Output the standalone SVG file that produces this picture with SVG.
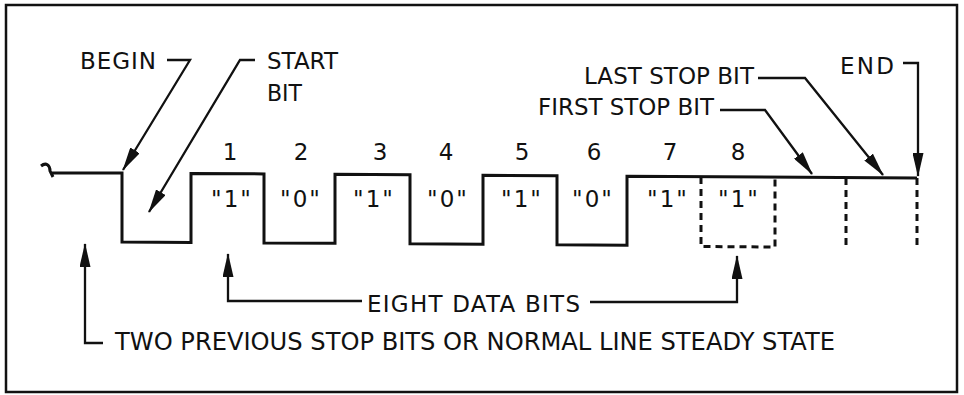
<svg xmlns="http://www.w3.org/2000/svg" width="964" height="395" viewBox="0 0 964 395">
  <defs>
    <marker id="ah" viewBox="0 0 24 11" markerWidth="24" markerHeight="11" refX="23" refY="5.5" orient="auto" markerUnits="userSpaceOnUse">
      <path d="M0,0 L24,5.5 L0,11 Z" fill="#111"/>
    </marker>
    <style>
      .wave { fill: none; stroke: #111; stroke-width: 3; stroke-linejoin: miter; }
      .dash { fill: none; stroke: #111; stroke-width: 3; stroke-dasharray: 7 5; }
      .lead { fill: none; stroke: #111; stroke-width: 2.3; marker-end: url(#ah); }
      text { font-family: "DejaVu Sans", "Liberation Sans", sans-serif; fill: #111; font-size: 23px; }
      .num { text-anchor: middle; }
      .q { text-anchor: middle; letter-spacing: 2px; }
      .big { font-size: 24px; }
    </style>
  </defs>
  <rect width="964" height="395" fill="#fff"/>
  <rect x="6" y="5" width="951" height="387" fill="none" stroke="#111" stroke-width="2.5"/>

  <g id="waveform">
    <path class="wave" d="M41,166 C46,162 50,165 50,171 L53,177 M50,173 L122,173 L122,242 L191,242.4 L191,173.4 L264,173.9 L264,242.9 L335,243.3 L335,174.3 L410,174.8 L410,243.8 L483,244.3 L483,175.3 L557,175.7 L557,244.7 L627,245.2 L627,176.2 L917,178"/>
    <path class="dash" d="M701,177 L701,246.5 L775,247 L775,177.5"/>
    <path class="dash" d="M846,178 L846,248"/>
    <path class="dash" d="M917,178 L917,248"/>
  </g>

  <g id="bit-numbers">
    <text class="num" x="230" y="160">1</text>
    <text class="num" x="301" y="160">2</text>
    <text class="num" x="380" y="160">3</text>
    <text class="num" x="446" y="160">4</text>
    <text class="num" x="522" y="160">5</text>
    <text class="num" x="594" y="160">6</text>
    <text class="num" x="670" y="160">7</text>
    <text class="num" x="738" y="160">8</text>
  </g>

  <g id="bit-values">
    <text class="q" x="232" y="207">"1"</text>
    <text class="q" x="301" y="207">"0"</text>
    <text class="q" x="374" y="207">"1"</text>
    <text class="q" x="448" y="207">"0"</text>
    <text class="q" x="522" y="207">"1"</text>
    <text class="q" x="593" y="207">"0"</text>
    <text class="q" x="668" y="207">"1"</text>
    <text class="q" x="739" y="207">"1"</text>
  </g>

  <g id="begin">
    <text x="80" y="69" textLength="76" lengthAdjust="spacing">BEGIN</text>
  </g>
  <g id="start-bit">
    <text x="267" y="69" textLength="71" lengthAdjust="spacingAndGlyphs">START</text>
    <text x="267" y="101" textLength="35" lengthAdjust="spacingAndGlyphs">BIT</text>
  </g>
  <g id="last-stop-bit">
    <text x="584" y="84" textLength="170" lengthAdjust="spacing">LAST STOP BIT</text>
  </g>
  <g id="first-stop-bit">
    <text x="538" y="115" textLength="176" lengthAdjust="spacingAndGlyphs">FIRST STOP BIT</text>
  </g>
  <g id="end">
    <text x="840" y="74" textLength="54" lengthAdjust="spacing">END</text>
  </g>
  <g id="eight-data-bits">
    <text x="367" y="312" textLength="213" lengthAdjust="spacing">EIGHT DATA BITS</text>
  </g>
  <g id="steady-state">
    <text class="big" x="115" y="350" textLength="720" lengthAdjust="spacingAndGlyphs">TWO PREVIOUS STOP BITS OR NORMAL LINE STEADY STATE</text>
  </g>

  <g id="connectors">
    <path class="lead" d="M167,60 H190 L123,170"/>
    <path class="lead" d="M255,60 H240 L149,212"/>
    <path class="lead" d="M720,110 H765 L812,174"/>
    <path class="lead" d="M758,78 H805 L883,175"/>
    <path class="lead" d="M903,63 H918 V176"/>
    <path class="lead" d="M362,301 H228 V254"/>
    <path class="lead" d="M590,302 H737 V256"/>
    <path class="lead" d="M103,343 H85 V244"/>
  </g>
</svg>
